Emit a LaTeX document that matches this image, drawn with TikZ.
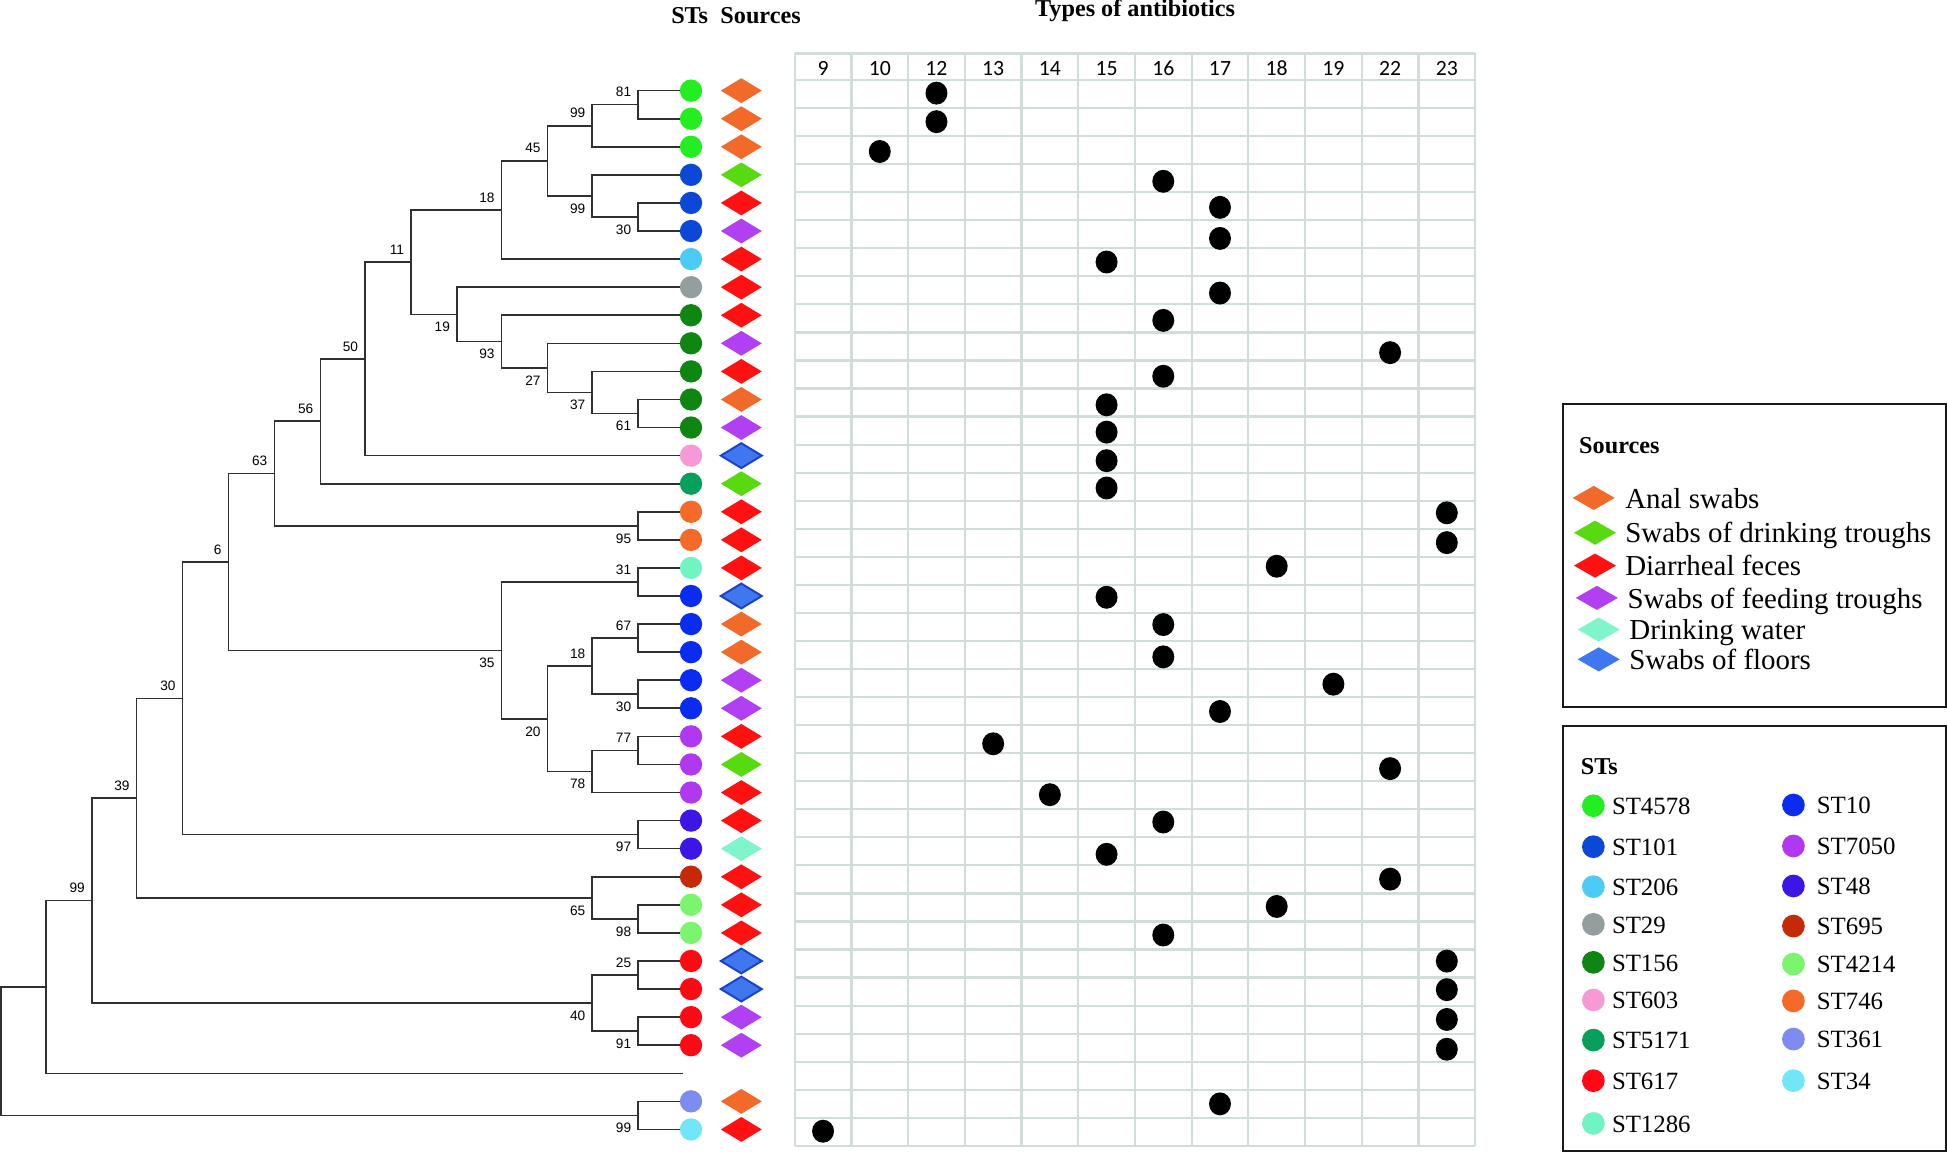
\documentclass[tikz,border=0pt]{standalone}
\usepackage{fontspec}
\setmainfont{Liberation Serif}
\newfontfamily\labfont{Liberation Sans}
\newfontfamily\hdrfont{Carlito}
\usetikzlibrary{shapes.geometric}
% ST colours
\definecolor{c4578}{HTML}{22EE22}
\definecolor{c101}{HTML}{0B48D8}
\definecolor{c206}{HTML}{4CCBF5}
\definecolor{c29}{HTML}{939E9E}
\definecolor{c156}{HTML}{0F8512}
\definecolor{c603}{HTML}{F59AD4}
\definecolor{c5171}{HTML}{06A05C}
\definecolor{c617}{HTML}{FF0A14}
\definecolor{c1286}{HTML}{70F5C2}
\definecolor{c10}{HTML}{0A2CF0}
\definecolor{c7050}{HTML}{B038F0}
\definecolor{c48}{HTML}{3B16E4}
\definecolor{c695}{HTML}{C42A08}
\definecolor{c4214}{HTML}{7BF46E}
\definecolor{c746}{HTML}{F56A28}
\definecolor{c361}{HTML}{7C8CF0}
\definecolor{c34}{HTML}{70E6F6}
% source colours
\definecolor{anal}{HTML}{F26A2A}
\definecolor{drink}{HTML}{57DA10}
\definecolor{diarr}{HTML}{FF1111}
\definecolor{feed}{HTML}{B040F2}
\definecolor{water}{HTML}{80F5CC}
\definecolor{floor}{HTML}{3F78EE}
\definecolor{floorb}{HTML}{1B42C8}
\definecolor{gridc}{HTML}{D2DDD9}
\definecolor{treec}{HTML}{303030}
\begin{document}
\begin{tikzpicture}[x=1pt,y=-1pt,
  branch/.style={draw=treec,line width=1.3pt},
  ulab/.style={font=\labfont\fontsize{11}{11}\selectfont,inner sep=0pt,anchor=south east,xshift=-5.5pt,yshift=6pt},
  llab/.style={font=\labfont\fontsize{11}{11}\selectfont,inner sep=0pt,anchor=north east,xshift=-5.5pt,yshift=-6pt},
  stdot/.style={ellipse,minimum width=18pt,minimum height=18pt,inner sep=0pt,outer sep=0pt},
  srcd/.style={diamond,minimum width=33pt,minimum height=20pt,inner sep=0pt,outer sep=0pt,line width=1.6pt},
  resdot/.style={ellipse,fill=black,minimum width=17.7pt,minimum height=18.5pt,inner sep=0pt},
  hdr/.style={font=\hdrfont\fontsize{17.5}{18}\selectfont,inner sep=0pt},
  gridl/.style={draw=gridc,line width=1.8pt},
  legbox/.style={draw=black!90,line width=1.6pt},
  legsrc/.style={diamond,minimum width=34pt,minimum height=19.6pt,inner sep=0pt},
  legst/.style={circle,minimum size=18.3pt,inner sep=0pt},
  legtxt/.style={font=\fontsize{23.3}{24}\selectfont,inner sep=0pt,anchor=base west},
  sttxt/.style={font=\fontsize{20}{20}\selectfont,inner sep=0pt,anchor=base west},
  ttl/.style={font=\bfseries\fontsize{19.5}{20}\selectfont,inner sep=0pt,anchor=base west}
]
\useasboundingbox (0,0) rectangle (1568,928);
\fill[white] (0,0) rectangle (1568,928);

% titles
\node[ttl] (tST) at (540.4,18.8) {STs};
\node[ttl] (tSrc) at (580,18.8) {Sources};
\node[ttl] (tAB) at (833.4,13.4) {Types of antibiotics};

% grid
\foreach \k in {0,...,12} \draw[gridl] ({640+\k*45.667},43) -- ({640+\k*45.667},923);
\draw[gridl] (640,43) -- (1188,43);
\foreach \k in {0,...,38} \draw[gridl] (640,{64.4+\k*22.59}) -- (1188,{64.4+\k*22.59});
\foreach \lab [count=\j] in {9,10,12,13,14,15,16,17,18,19,22,23}
  \node[hdr] (h\j) at ({640+(\j-0.5)*45.667},55) {\lab};

% resistance dots
\foreach \r/\c/\yy in {1/3/75,2/3/98,3/2/122,4/7/146,5/8/167,6/8/192,7/6/211,8/8/236,9/7/258,10/11/284,
  11/7/303,12/6/326,13/6/348,14/6/371,15/6/393,16/12/413,17/12/437,18/9/456,19/6/481,20/7/503,
  21/7/529,22/10/551,23/8/573,24/4/599,25/11/619,26/5/640,27/7/662,28/6/688,29/11/708,30/9/730,
  31/7/753,32/12/774,33/12/797,34/12/821,35/12/845,37/8/889,38/1/911}
  \node[resdot] (x\r) at ({640+(\c-0.5)*45.667},\yy) {};

% leaves: ST circles and source diamonds
\foreach \r/\st/\src/\bd in {1/c4578/anal/none,2/c4578/anal/none,3/c4578/anal/none,4/c101/drink/none,
  5/c101/diarr/none,6/c101/feed/none,7/c206/diarr/none,8/c29/diarr/none,9/c156/diarr/none,
  10/c156/feed/none,11/c156/diarr/none,12/c156/anal/none,13/c156/feed/none,14/c603/floor/floorb,
  15/c5171/drink/none,16/c746/diarr/none,17/c746/diarr/none,18/c1286/diarr/none,19/c10/floor/floorb,
  20/c10/anal/none,21/c10/anal/none,22/c10/feed/none,23/c10/feed/none,24/c7050/diarr/none,
  25/c7050/drink/none,26/c7050/diarr/none,27/c48/diarr/none,28/c48/water/none,29/c695/diarr/none,
  30/c4214/diarr/none,31/c4214/diarr/none,32/c617/floor/floorb,33/c617/floor/floorb,
  34/c617/feed/none,35/c617/feed/none,37/c361/anal/none,38/c34/diarr/none}
{
  \node[stdot,fill=\st] (s\r) at (556.5,{73+(\r-1)*22.61}) {};
  \node[srcd,fill=\src,draw=\bd] (d\r) at (597,{73+(\r-1)*22.61}) {};
}
\coordinate (e36) at (549.7,864.4);

% internal nodes
\coordinate (n81) at (514,84.3);
\coordinate (M99) at (477,101.25);
\coordinate (n30a) at (514,174.75);
\coordinate (N99) at (477,157.8);
\coordinate (L45) at (441,129.5);
\coordinate (J18) at (404,169.1);
\coordinate (n61) at (514,333.0);
\coordinate (n37) at (477,316.05);
\coordinate (n27) at (441,296.3);
\coordinate (n93) at (404,275.1);
\coordinate (K19) at (368,253.2);
\coordinate (I11) at (331,211.15);
\coordinate (H50) at (294,289.0);
\coordinate (G56) at (258,339.25);
\coordinate (n95) at (514,423.5);
\coordinate (F63) at (221,381.4);
\coordinate (n31) at (514,468.7);
\coordinate (n67) at (514,513.9);
\coordinate (n30b) at (514,559.1);
\coordinate (n18b) at (477,536.5);
\coordinate (n77) at (514,604.3);
\coordinate (n78) at (477,621.3);
\coordinate (n20) at (441,578.9);
\coordinate (n35) at (404,523.8);
\coordinate (E6) at (184,452.6);
\coordinate (n97) at (514,672.2);
\coordinate (D30) at (147,562.4);
\coordinate (n98) at (514,740.0);
\coordinate (n65) at (477,723.05);
\coordinate (C39) at (110,642.7);
\coordinate (n25) at (514,785.2);
\coordinate (n91) at (514,830.4);
\coordinate (n40) at (477,807.8);
\coordinate (B99) at (74,725.25);
\coordinate (A0) at (37,794.8);
\coordinate (n99c) at (514,898.3);
\coordinate (R0) at (1,846.55);

% branches (each junction: upper child -| parent |- lower child)
\draw[branch] (s1.west) -| (n81) |- (s2.west);
\draw[branch] (n81) -| (M99) |- (s3.west);
\draw[branch] (s5.west) -| (n30a) |- (s6.west);
\draw[branch] (s4.west) -| (N99) |- (n30a);
\draw[branch] (M99) -| (L45) |- (N99);
\draw[branch] (L45) -| (J18) |- (s7.west);
\draw[branch] (s12.west) -| (n61) |- (s13.west);
\draw[branch] (s11.west) -| (n37) |- (n61);
\draw[branch] (s10.west) -| (n27) |- (n37);
\draw[branch] (s9.west) -| (n93) |- (n27);
\draw[branch] (s8.west) -| (K19) |- (n93);
\draw[branch] (J18) -| (I11) |- (K19);
\draw[branch] (I11) -| (H50) |- (s14.west);
\draw[branch] (H50) -| (G56) |- (s15.west);
\draw[branch] (s16.west) -| (n95) |- (s17.west);
\draw[branch] (G56) -| (F63) |- (n95);
\draw[branch] (s18.west) -| (n31) |- (s19.west);
\draw[branch] (s20.west) -| (n67) |- (s21.west);
\draw[branch] (s22.west) -| (n30b) |- (s23.west);
\draw[branch] (n67) -| (n18b) |- (n30b);
\draw[branch] (s24.west) -| (n77) |- (s25.west);
\draw[branch] (n77) -| (n78) |- (s26.west);
\draw[branch] (n18b) -| (n20) |- (n78);
\draw[branch] (n31) -| (n35) |- (n20);
\draw[branch] (F63) -| (E6) |- (n35);
\draw[branch] (s27.west) -| (n97) |- (s28.west);
\draw[branch] (E6) -| (D30) |- (n97);
\draw[branch] (s30.west) -| (n98) |- (s31.west);
\draw[branch] (s29.west) -| (n65) |- (n98);
\draw[branch] (D30) -| (C39) |- (n65);
\draw[branch] (s32.west) -| (n25) |- (s33.west);
\draw[branch] (s34.west) -| (n91) |- (s35.west);
\draw[branch] (n25) -| (n40) |- (n91);
\draw[branch] (C39) -| (B99) |- (n40);
\draw[branch] (B99) -| (A0) |- (e36);
\draw[branch] (s37.west) -| (n99c) |- (s38.west);
\draw[branch] (A0) -| (R0) |- (n99c);

% bootstrap labels
\node[ulab] (l81) at (n81) {81};
\node[ulab] (lM99) at (M99) {99};
\node[ulab] (lL45) at (L45) {45};
\node[llab] (lN99) at (N99) {99};
\node[llab] (l30a) at (n30a) {30};
\node[ulab] (lJ18) at (J18) {18};
\node[ulab] (lI11) at (I11) {11};
\node[llab] (lK19) at (K19) {19};
\node[llab] (l93) at (n93) {93};
\node[llab] (l27) at (n27) {27};
\node[llab] (l37) at (n37) {37};
\node[llab] (l61) at (n61) {61};
\node[ulab] (lH50) at (H50) {50};
\node[ulab] (lG56) at (G56) {56};
\node[ulab] (lF63) at (F63) {63};
\node[llab] (l95) at (n95) {95};
\node[ulab] (lE6) at (E6) {6};
\node[llab] (l35) at (n35) {35};
\node[ulab] (l31) at (n31) {31};
\node[llab] (l20) at (n20) {20};
\node[ulab] (l18b) at (n18b) {18};
\node[ulab] (l67) at (n67) {67};
\node[llab] (l30b) at (n30b) {30};
\node[llab] (l78) at (n78) {78};
\node[ulab] (l77) at (n77) {77};
\node[ulab] (lD30) at (D30) {30};
\node[llab] (l97) at (n97) {97};
\node[ulab] (lC39) at (C39) {39};
\node[llab] (l65) at (n65) {65};
\node[llab] (l98) at (n98) {98};
\node[ulab] (lB99) at (B99) {99};
\node[llab] (l40) at (n40) {40};
\node[ulab] (l25) at (n25) {25};
\node[llab] (l91) at (n91) {91};
\node[llab] (l99c) at (n99c) {99};

% Sources legend
\draw[legbox] (1258.5,325.4) rectangle (1567.3,569.6);
\node[ttl] (lgS) at (1271.6,365) {Sources};
\foreach \xd/\yd/\xt/\col/\txt [count=\i] in {
  1283.5/401/1308.7/anal/Anal swabs,
  1284.5/429/1308.7/drink/Swabs of drinking troughs,
  1284.5/455.5/1308.7/diarr/Diarrheal feces,
  1286/481.5/1310.6/feed/Swabs of feeding troughs,
  1287.5/507/1312/water/Drinking water,
  1287.5/531/1312/floor/Swabs of floors}
{
  \node[legsrc,fill=\col] (ls\i) at (\xd,\yd) {};
  \node[legtxt] (lt\i) at (\xt,\yd+8.2) {\txt};
}

% STs legend
\draw[legbox] (1258.5,584.4) rectangle (1567.3,926.7);
\node[ttl] (lgT) at (1273,624) {STs};
\foreach \yy/\col/\txt [count=\i] in {648.9/c4578/ST4578,681.9/c101/ST101,714.1/c206/ST206,
  744.4/c29/ST29,775/c156/ST156,805.3/c603/ST603,837.6/c5171/ST5171,870.3/c617/ST617,904.7/c1286/ST1286}
{
  \node[legst,fill=\col] (la\i) at (1283.2,\yy) {};
  \node[sttxt] (lat\i) at (1298,\yy+7) {\txt};
}
\foreach \yy/\col/\txt [count=\i] in {648.3/c10/ST10,681.3/c7050/ST7050,713.5/c48/ST48,
  745.8/c695/ST695,776.4/c4214/ST4214,806.1/c746/ST746,836.8/c361/ST361,870.3/c34/ST34}
{
  \node[legst,fill=\col] (lb\i) at (1444.3,\yy) {};
  \node[sttxt] (lbt\i) at (1463,\yy+7) {\txt};
}
\end{tikzpicture}
\end{document}
